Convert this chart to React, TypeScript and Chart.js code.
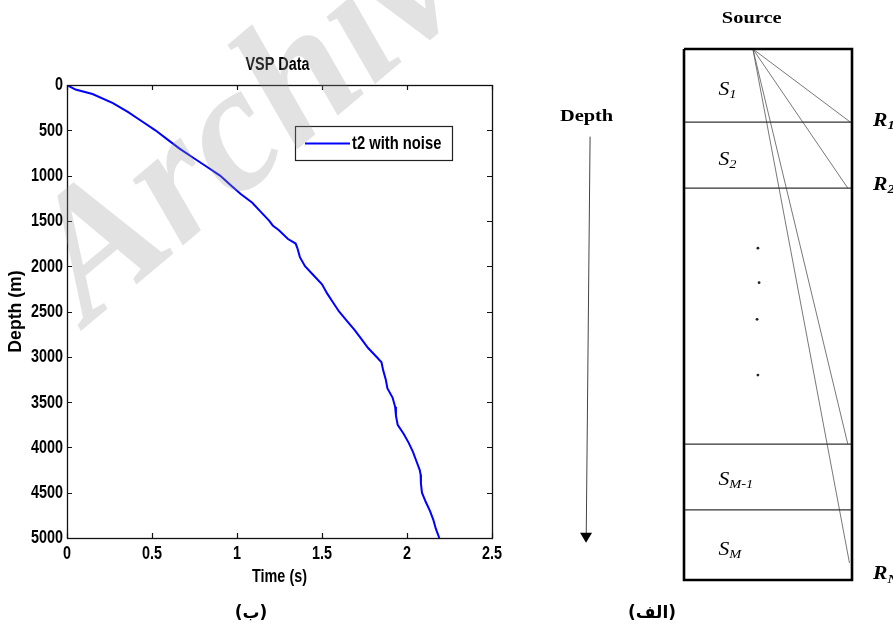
import React, { useEffect, useRef } from 'react';
import { Chart, registerables } from 'chart.js';
Chart.register(...registerables);

// ---------- VSP data (left panel) ----------
const depthValues = [0, 50, 100, 200, 300, 400, 500, 600, 700, 800, 900, 1000, 1100, 1200, 1300, 1400, 1500, 1550, 1600, 1700, 1750, 1800, 1900, 2000, 2100, 2200, 2300, 2400, 2500, 2600, 2700, 2800, 2900, 3000, 3060, 3150, 3250, 3350, 3450, 3550, 3650, 3750, 3850, 3950, 4050, 4150, 4250, 4300, 4400, 4500, 4600, 4700, 4800, 4900, 5000];
const timeValues = [0, 0.05, 0.15, 0.27, 0.36, 0.44, 0.52, 0.59, 0.66, 0.74, 0.82, 0.9, 0.96, 1.02, 1.09, 1.14, 1.19, 1.21, 1.245, 1.3, 1.345, 1.355, 1.37, 1.4, 1.45, 1.5, 1.53, 1.565, 1.6, 1.645, 1.69, 1.73, 1.77, 1.82, 1.85, 1.86, 1.875, 1.885, 1.915, 1.93, 1.935, 1.945, 1.98, 2.01, 2.035, 2.055, 2.075, 2.08, 2.082, 2.088, 2.11, 2.135, 2.155, 2.17, 2.19];
const seriesLabel = 't2 with noise';
const chartTitle = 'VSP Data';
const xTitle = 'Time (s)';
const yTitle = 'Depth (m)';
const timeRange = [0, 2.5];
const timeStep = 0.5;
const depthRange = [0, 5000];
const depthStep = 500;

// ---------- schematic (right panel), normalised box units ----------
const layerBounds = [0.1376, 0.262, 0.744, 0.868];
const sourceX = 0.41;
const receiverX = [0.99, 0.975, 0.975, 0.985];
const receiverDepth = [0.1376, 0.262, 0.744, 0.968];
const dotX = [0.44, 0.447, 0.435, 0.44];
const dotDepth = [0.375, 0.44, 0.509, 0.614];
const layerLabels = [['S', '1'], ['S', '2'], ['S', 'M-1'], ['S', 'M']];
const layerLabelDepth = [0.077, 0.209, 0.812, 0.944];
const receiverLabels = [['R', '1'], ['R', '2'], ['R', 'N']];
const receiverLabelDepth = [0.136, 0.256, 0.99];
const arrowTop = { x: -0.559, y: 0.165 };
const arrowTip = { x: -0.583, y: 0.93 };

const SANS = "'Liberation Sans', Arial, sans-serif";
const SERIF = "'Liberation Serif', 'Times New Roman', serif";
const NARROW_FONT = `bold 18px ${SANS}`;
const NARROW_SX = 0.8;

function drawScaled(ctx: any, text: string, x: number, y: number, font: string, align: string, sx: number, rot = 0) {
  ctx.save();
  ctx.font = font;
  ctx.textBaseline = 'middle';
  ctx.textAlign = 'left';
  const w = ctx.measureText(text).width * sx;
  ctx.translate(x, y);
  if (rot) ctx.rotate(rot);
  const x0 = align === 'center' ? -w / 2 : align === 'right' ? -w : 0;
  ctx.translate(x0, 0);
  ctx.scale(sx, 1);
  ctx.fillText(text, 0, 0);
  ctx.restore();
  return w;
}

const framePlugin = {
  id: 'frame',
  afterDatasetsDraw(chart: any) {
    const { ctx, chartArea: a, scales } = chart;
    ctx.save();
    ctx.strokeStyle = '#111';
    ctx.lineWidth = 1.2;
    ctx.beginPath();
    for (const t of scales.x.ticks) {
      const p = Math.round(scales.x.getPixelForValue(t.value)) + 0.5;
      ctx.moveTo(p, a.bottom); ctx.lineTo(p, a.bottom - 5);
      ctx.moveTo(p, a.top); ctx.lineTo(p, a.top + 5);
    }
    for (const t of scales.y.ticks) {
      const p = Math.round(scales.y.getPixelForValue(t.value)) + 0.5;
      ctx.moveTo(a.left, p); ctx.lineTo(a.left + 5, p);
      ctx.moveTo(a.right, p); ctx.lineTo(a.right - 5, p);
    }
    ctx.stroke();
    ctx.lineWidth = 1.3;
    ctx.strokeRect(a.left + 0.5, a.top + 0.5, a.right - a.left, a.bottom - a.top);

    // tick labels and titles
    ctx.fillStyle = '#000';
    for (const t of scales.x.ticks) {
      drawScaled(ctx, String(t.value), scales.x.getPixelForValue(t.value), a.bottom + 16, NARROW_FONT, 'center', NARROW_SX);
    }
    for (const t of scales.y.ticks) {
      drawScaled(ctx, String(t.value), a.left - 4, scales.y.getPixelForValue(t.value) + 0.5, NARROW_FONT, 'right', NARROW_SX);
    }
    const midX = (a.left + a.right) / 2;
    const midY = (a.top + a.bottom) / 2;
    drawScaled(ctx, xTitle, midX, a.bottom + 39.5, NARROW_FONT, 'center', NARROW_SX);
    drawScaled(ctx, yTitle, 16, midY, NARROW_FONT, 'center', 0.98, -Math.PI / 2);
    drawScaled(ctx, chartTitle, midX - 2, a.top - 20, NARROW_FONT, 'center', NARROW_SX);

    // legend
    const bx = a.right - 197, by = a.top + 41, bw = 157, bh = 34;
    ctx.fillStyle = '#fff';
    ctx.fillRect(bx, by, bw, bh);
    ctx.lineWidth = 1.2;
    ctx.strokeStyle = '#222';
    ctx.strokeRect(bx + 0.5, by + 0.5, bw, bh);
    const ds = chart.data.datasets[0];
    ctx.strokeStyle = ds.borderColor;
    ctx.lineWidth = 2;
    ctx.beginPath();
    ctx.moveTo(bx + 10, by + bh / 2 + 0.5);
    ctx.lineTo(bx + 55, by + bh / 2 + 0.5);
    ctx.stroke();
    ctx.fillStyle = '#000';
    drawScaled(ctx, ds.label, bx + 57, by + bh / 2 + 1, NARROW_FONT, 'left', 0.82);
    ctx.restore();
  },
};

const watermarkPlugin = {
  id: 'watermark',
  afterDraw(chart: any) {
    const { ctx } = chart;
    ctx.save();
    ctx.translate(88, 325);
    ctx.rotate(-40 * Math.PI / 180);
    ctx.font = `bold italic 180px ${SERIF}`;
    ctx.fillStyle = 'rgba(150,150,150,0.28)';
    ctx.textBaseline = 'alphabetic';
    ctx.fillText('Archive of SID', 0, 0);
    ctx.restore();
  },
};

function drawSub(ctx: any, main: string, sub: string, x: number, y: number, weight: string) {
  const w = drawScaled(ctx, main, x, y, `${weight} italic 18px ${SERIF}`, 'left', 1.2);
  drawScaled(ctx, sub, x + w, y + 5, `${weight} italic 12px ${SERIF}`, 'left', 1.2);
}

const schematicText = {
  id: 'schematicText',
  afterDraw(chart: any) {
    const { ctx, scales } = chart;
    const px = (v: number) => scales.x.getPixelForValue(v);
    const py = (v: number) => scales.y.getPixelForValue(v);
    ctx.save();
    // arrow head
    const tx = px(arrowTip.x), ty = py(arrowTip.y);
    ctx.fillStyle = '#000';
    ctx.beginPath();
    ctx.moveTo(tx, ty);
    ctx.lineTo(tx - 6, ty - 10);
    ctx.lineTo(tx + 6, ty - 10);
    ctx.closePath();
    ctx.fill();
    drawScaled(ctx, 'Source', px(0.403), py(-0.057), `bold 17px ${SERIF}`, 'center', 1.2);
    drawScaled(ctx, 'Depth', px(-0.58), py(0.127), `bold 17px ${SERIF}`, 'center', 1.2);
    layerLabels.forEach((l, i) => drawSub(ctx, l[0], l[1], px(0.205), py(layerLabelDepth[i]), 'normal'));
    receiverLabels.forEach((l, i) => drawSub(ctx, l[0], l[1], px(1.125), py(receiverLabelDepth[i]), 'bold'));
    ctx.restore();
  },
};

export default function App() {
  const leftRef = useRef<HTMLCanvasElement>(null);
  const rightRef = useRef<HTMLCanvasElement>(null);

  useEffect(() => {
    const c1 = new Chart(leftRef.current as HTMLCanvasElement, {
      type: 'line',
      data: {
        datasets: [{
          label: seriesLabel,
          data: timeValues.map((t, i) => ({ x: t, y: depthValues[i] })),
          borderColor: '#0000ff',
          borderWidth: 2,
          pointRadius: 0,
          tension: 0,
          fill: false,
        }],
      },
      options: {
        animation: false,
        responsive: false,
        maintainAspectRatio: false,
        layout: { padding: { left: 0, right: 48, top: 85, bottom: 49 } },
        scales: {
          x: {
            type: 'linear', min: timeRange[0], max: timeRange[1],
            ticks: { stepSize: timeStep, display: false, autoSkip: false },
            grid: { display: false, drawTicks: false },
            border: { display: false },
            afterFit: (s: any) => { s.height = 50; },
          },
          y: {
            type: 'linear', reverse: true, min: depthRange[0], max: depthRange[1],
            ticks: { stepSize: depthStep, display: false, autoSkip: false },
            grid: { display: false, drawTicks: false },
            border: { display: false },
            afterFit: (s: any) => { s.width = 67; },
          },
        },
        plugins: {
          legend: { display: false },
          tooltip: { enabled: false },
          title: { display: false },
        },
      } as any,
      plugins: [framePlugin, watermarkPlugin],
    });

    const line = (pts: any[], color: string, width: number) => ({
      data: pts, showLine: true, borderColor: color, borderWidth: width, pointRadius: 0, clip: false, tension: 0,
    });
    const datasets: any[] = [];
    datasets.push(line([{ x: 0, y: 0 }, { x: 1, y: 0 }, { x: 1, y: 1 }, { x: 0, y: 1 }, { x: 0, y: 0 }], '#000', 2.6));
    layerBounds.forEach(b => datasets.push(line([{ x: 0, y: b }, { x: 1, y: b }], '#333', 1.2)));
    receiverX.forEach((rx, i) => datasets.push(line([{ x: sourceX, y: 0 }, { x: rx, y: receiverDepth[i] }], '#555', 0.8)));
    datasets.push({
      data: dotX.map((x, i) => ({ x, y: dotDepth[i] })), showLine: false, pointRadius: 1.4,
      pointBackgroundColor: '#222', pointBorderWidth: 0, clip: false,
    });
    datasets.push(line([arrowTop, { x: arrowTip.x + 0.001, y: arrowTip.y - 0.012 }], '#444', 1));

    const c2 = new Chart(rightRef.current as HTMLCanvasElement, {
      type: 'scatter',
      data: { datasets },
      options: {
        animation: false,
        responsive: false,
        maintainAspectRatio: false,
        layout: { padding: { left: 144, right: 41, top: 49, bottom: 57 } },
        scales: {
          x: { type: 'linear', min: 0, max: 1, display: false },
          y: { type: 'linear', min: 0, max: 1, reverse: true, display: false },
        },
        plugins: { legend: { display: false }, tooltip: { enabled: false }, title: { display: false } },
      } as any,
      plugins: [schematicText],
    });

    return () => { c1.destroy(); c2.destroy(); };
  }, []);

  const arabic: React.CSSProperties = {
    position: 'absolute', top: 612, transform: 'translate(-50%, -50%)',
    font: "bold 17px 'DejaVu Sans', sans-serif", color: '#000', direction: 'rtl', whiteSpace: 'nowrap',
  };

  return (
    <div style={{ position: 'absolute', left: 0, top: 0, width: 893, height: 637, background: '#fff', overflow: 'hidden' }}>
      <canvas ref={leftRef} width={540} height={637} style={{ position: 'absolute', left: 0, top: 0, width: 540, height: 637 }} />
      <canvas ref={rightRef} width={353} height={637} style={{ position: 'absolute', left: 540, top: 0, width: 353, height: 637 }} />
      <div style={{ ...arabic, left: 251 }}>(ب)</div>
      <div style={{ ...arabic, left: 652 }}>(الف)</div>
    </div>
  );
}
